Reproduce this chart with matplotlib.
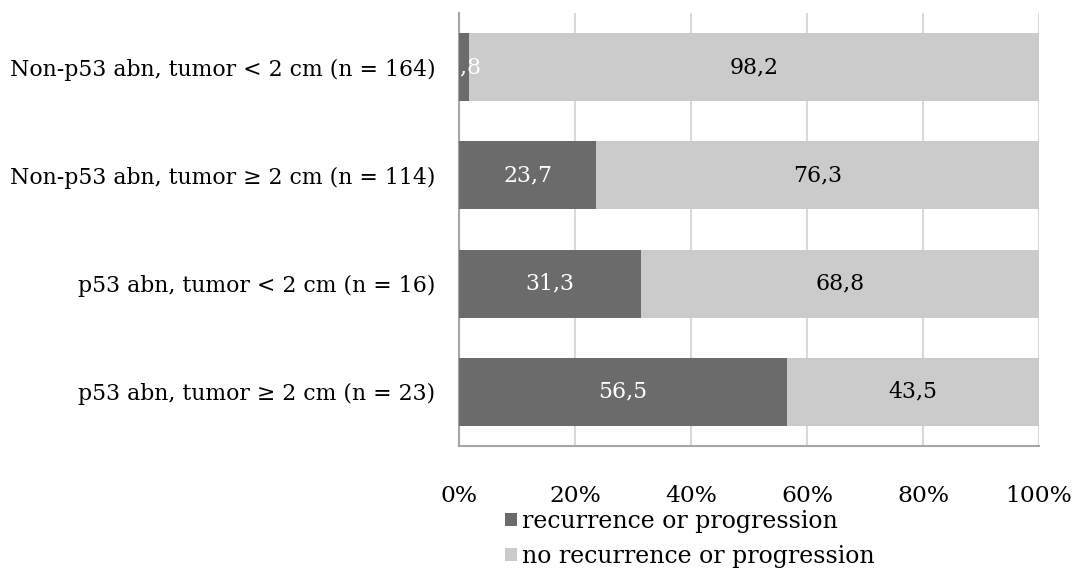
import matplotlib
matplotlib.use("Agg")
import matplotlib.pyplot as plt
from matplotlib.patches import Patch
from matplotlib.ticker import FuncFormatter

plt.rcParams['font.family'] = ['DejaVu Serif']

categories = [
    "Non-p53 abn, tumor < 2 cm (n = 164)",
    "Non-p53 abn, tumor \u2265 2 cm (n = 114)",
    "p53 abn, tumor < 2 cm (n = 16)",
    "p53 abn, tumor \u2265 2 cm (n = 23)",
]
recurrence = [1.8, 23.7, 31.3, 56.5]
no_recurrence = [98.2, 76.3, 68.8, 43.5]
series_names = ["recurrence or progression", "no recurrence or progression"]
tick_values = [0, 20, 40, 60, 80, 100]

dark = "#6b6b6b"
light = "#cbcbcb"
fs = 15.8

fig = plt.figure(figsize=(10.77, 5.69), dpi=100)
ax = fig.add_axes([459 / 1077, 1 - 446 / 569, 580 / 1077, 433 / 569])

y = list(range(len(categories)))
h = 0.63
ax.barh(y, recurrence, height=h, color=dark, zorder=3)
ax.barh(y, no_recurrence, left=recurrence, height=h, color=light, zorder=3)

def fmt(v):
    return f"{v:.1f}".replace(".", ",")

for i in y:
    ax.text(recurrence[i] / 2, i, fmt(recurrence[i]), ha="center", va="center",
            color="white", fontsize=fs, zorder=4)
    ax.text(recurrence[i] + no_recurrence[i] / 2, i, fmt(no_recurrence[i]),
            ha="center", va="center", color="black", fontsize=fs, zorder=4)

ax.set_xlim(0, 100)
ax.set_ylim(len(categories) - 0.5, -0.5)
ax.set_yticks(y)
ax.set_yticklabels(categories, fontsize=fs)
ax.set_xticks(tick_values)
ax.xaxis.set_major_formatter(FuncFormatter(lambda v, p: f"{v:.0f}%"))
ax.tick_params(axis="x", labelsize=16.8, length=0, pad=28)
ax.tick_params(axis="y", length=0, pad=17)
ax.grid(axis="x", color="#d9d9d9", linewidth=1.5, zorder=0)
for s in ["top", "right"]:
    ax.spines[s].set_visible(False)
for s in ["left", "bottom"]:
    ax.spines[s].set_color("#a6a6a6")
    ax.spines[s].set_linewidth(1.5)

handles = [Patch(facecolor=dark), Patch(facecolor=light)]
fig.legend(handles, series_names, loc="upper left",
           bbox_to_anchor=(505 / 1077, 1 - 510 / 569), frameon=False,
           fontsize=17, handlelength=0.5, handleheight=0.5, handletextpad=0.2,
           labelspacing=0.5, borderpad=0, borderaxespad=0)

fig.savefig("out.png", dpi=100)
